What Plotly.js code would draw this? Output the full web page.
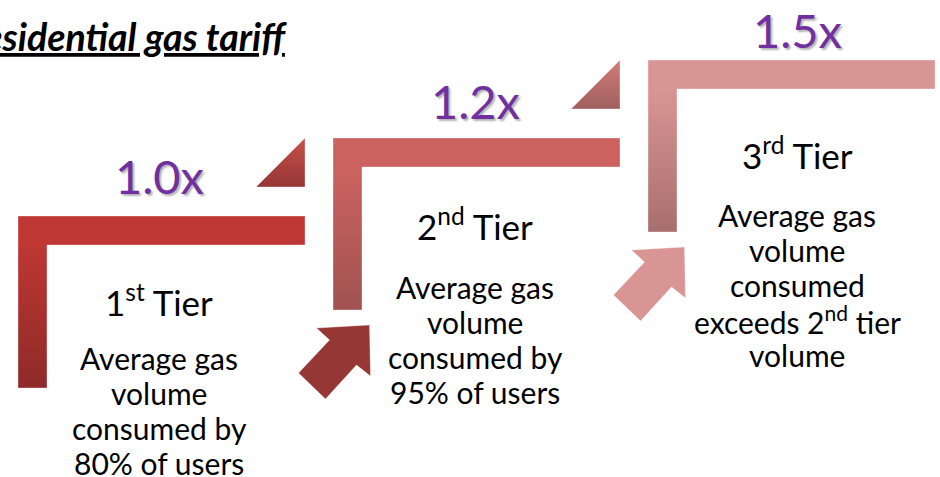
<!DOCTYPE html>
<html>
<head>
<meta charset="utf-8">
<script src="https://cdn.plot.ly/plotly-3.0.1.min.js"></script>
<style>html,body{margin:0;padding:0;background:#fff;}#chart{width:940px;height:477px;}</style>
</head>
<body>
<div id="chart"></div>
<script>
// ---- data ----
const chartTitle = "Residential gas tariff";
const tierNames = ["1<sup>st</sup> Tier", "2<sup>nd</sup> Tier", "3<sup>rd</sup> Tier"];
const multipliers = [1.0, 1.2, 1.5];
const userShares = [80, 95, null];
const descriptions = [
  ["Average gas", "volume", "consumed by", "80% of users"],
  ["Average gas", "volume", "consumed by", "95% of users"],
  ["Average gas", "volume", "consumed", "exceeds 2<sup>nd</sup> tier", "volume"]
];

// ---- layout / style (not data) ----
const W = 940, H = 477;
const G = {x0: 18, top0: 216, stepX: 315, stepY: 78, thick: 29, armX: 287, armY: 172,
           tri: 49, triGap: 29, arrowDx: 36.5, arrowDy: 187};
const arrowShape = [[-53,3],[0,0],[1,51],[-13,40],[-44,74],[-71,48],[-40,15]];
const lTop = ['#be3733', '#cc6360', '#d99594'];
const lBottom = ['#8e2a29', '#a05251', '#a86f6e'];
const triTop = ['#c9504c', '#d27c79'];
const triBottom = ['#943634', '#a0605f'];
const arrowColor = [null, '#953735', '#d99594'];
const textDx = [141, 142, 149];
const multDy = [-40, -37, -30];
const nameDy = [84, 86, 93];
const descDy = [142, 149, 155];
const lineGap = 35;
const FONT = 'Lato, "Open Sans", sans-serif';

const Y = p => H - p; // pixel-from-top -> axis value

const traces = [];
const annotations = [];

function poly(xs, ys, color, grad) {
  const t = {
    type: 'scatter', mode: 'lines', x: xs.concat([xs[0]]), y: ys.concat([ys[0]]),
    fill: 'toself', fillcolor: color,
    line: {color: 'rgba(255,255,255,0.35)', width: 1},
    hoverinfo: 'skip', showlegend: false
  };
  if (grad) t.fillgradient = grad;
  traces.push(t);
}

tierNames.forEach((name, i) => {
  const x0 = G.x0 + i * G.stepX;
  const top = G.top0 - i * G.stepY; // pixel from top
  // L shape
  const xs = [x0, x0 + G.armX, x0 + G.armX, x0 + G.thick, x0 + G.thick, x0];
  const ys = [top, top, top + G.thick, top + G.thick, top + G.armY, top + G.armY].map(Y);
  poly(xs, ys, lTop[i], {type: 'vertical', start: Y(top + G.armY), stop: Y(top + G.thick),
        colorscale: [[0, lBottom[i]], [1, lTop[i]]]});
  // triangle toward next tier
  if (i < tierNames.length - 1) {
    const rx = x0 + G.armX, by = top - G.triGap;
    poly([rx - G.tri, rx, rx], [by, by, by - G.tri].map(Y), triTop[i],
         {type: 'vertical', colorscale: [[0, triBottom[i]], [1, triTop[i]]]});
  }
  // arrow into tier
  if (arrowColor[i]) {
    const cx = x0 + G.arrowDx, cy = top + G.arrowDy;
    poly(arrowShape.map(d => cx + d[0]), arrowShape.map(d => Y(cy + d[1])), arrowColor[i]);
  }
  // texts
  const tx = x0 + textDx[i];
  annotations.push({
    x: tx, y: Y(top + multDy[i]), xref: 'x', yref: 'y', showarrow: false,
    text: multipliers[i].toFixed(1) + 'x', xanchor: 'center', yanchor: 'middle',
    font: {family: FONT, size: 47, color: '#7030a0', shadow: '2px 2px 2px rgba(0,0,0,0.3)'}
  });
  annotations.push({
    x: tx, y: Y(top + nameDy[i]), xref: 'x', yref: 'y', showarrow: false,
    text: name, xanchor: 'center', yanchor: 'middle',
    font: {family: FONT, size: 35, color: '#000'}
  });
  descriptions[i].forEach((line, k) => {
    annotations.push({
      x: tx, y: Y(top + descDy[i] + k * lineGap), xref: 'x', yref: 'y', showarrow: false,
      text: line, xanchor: 'center', yanchor: 'middle',
      font: {family: FONT, size: 30, color: '#000'}
    });
  });
});

annotations.push({
  x: 289, y: Y(36), xref: 'x', yref: 'y', showarrow: false, text: chartTitle,
  xanchor: 'right', yanchor: 'middle',
  font: {family: FONT, size: 37.5, color: '#000', weight: 'bold', style: 'italic', lineposition: 'under'}
});

const layout = {
  width: W, height: H, margin: {l: 0, r: 0, t: 0, b: 0},
  paper_bgcolor: '#fff', plot_bgcolor: '#fff',
  xaxis: {range: [0, W], visible: false, fixedrange: true},
  yaxis: {range: [0, H], visible: false, fixedrange: true},
  annotations: annotations, showlegend: false
};
Plotly.newPlot('chart', traces, layout, {staticPlot: true, displayModeBar: false});
</script>
</body>
</html>
